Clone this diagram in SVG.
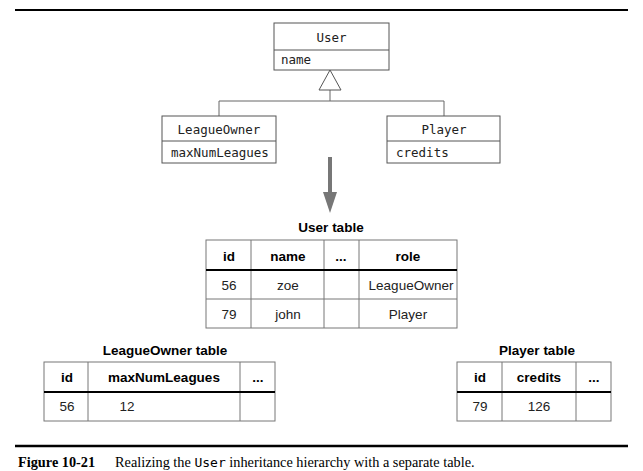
<svg xmlns="http://www.w3.org/2000/svg" width="643" height="471" viewBox="0 0 643 471">
<defs>
<style>
.box{fill:#fff;stroke:#555;stroke-width:1}
.uml{font-family:"DejaVu Sans Mono","Liberation Mono",monospace;font-size:12.5px;fill:#222}
.conn{fill:none;stroke:#666;stroke-width:1}
.tb{fill:#fff;stroke:#777;stroke-width:1}
.tl{stroke:#777;stroke-width:1}
.th{stroke:#000;stroke-width:2}
.hd{font-family:"Liberation Sans",Arial,sans-serif;font-size:13.5px;font-weight:bold;fill:#000;text-anchor:middle}
.cell{font-family:"Liberation Sans",Arial,sans-serif;font-size:13.5px;fill:#222;text-anchor:middle}
.rule{stroke:#000}
</style>
</defs>
<rect width="643" height="471" fill="#fff"/>
<line class="rule" x1="15" y1="10" x2="628" y2="10" stroke-width="2"/>
<line class="rule" x1="15" y1="446" x2="628" y2="446" stroke-width="2.5"/>

<g id="connectors">
<polyline class="conn" points="219,116 219,101 444,101 444,116"/>
<line class="conn" x1="330" y1="101" x2="330" y2="90"/>
<polygon points="330,70 319,90 341,90" fill="#fff" stroke="#555" stroke-width="1"/>
<line x1="330" y1="157" x2="330" y2="194" stroke="#777" stroke-width="4"/>
<polygon points="323,192 337,192 330,213" fill="#777"/>
</g>

<g id="User">
<rect class="box" x="274" y="23" width="115" height="47"/>
<line class="box" x1="274" y1="50" x2="389" y2="50"/>
<text class="uml" x="331.5" y="42" text-anchor="middle">User</text>
<text class="uml" x="281" y="64">name</text>
</g>

<g id="LeagueOwner">
<rect class="box" x="162" y="116" width="114" height="47"/>
<line class="box" x1="162" y1="141" x2="276" y2="141"/>
<text class="uml" x="219" y="134" text-anchor="middle">LeagueOwner</text>
<text class="uml" x="171" y="157">maxNumLeagues</text>
</g>

<g id="Player">
<rect class="box" x="387" y="116" width="113" height="47"/>
<line class="box" x1="387" y1="141" x2="500" y2="141"/>
<text class="uml" x="444" y="134" text-anchor="middle">Player</text>
<text class="uml" x="396" y="157">credits</text>
</g>

<g id="UserTable">
<text class="hd" x="331" y="232">User table</text>
<rect class="tb" x="206" y="240" width="251" height="88"/>
<line class="tl" x1="251" y1="240" x2="251" y2="328"/>
<line class="tl" x1="324" y1="240" x2="324" y2="328"/>
<line class="tl" x1="359" y1="240" x2="359" y2="328"/>
<line class="tl" x1="206" y1="299" x2="457" y2="299"/>
<line class="th" x1="206" y1="270" x2="457" y2="270"/>
<text class="hd" x="229" y="261">id</text>
<text class="hd" x="288" y="261">name</text>
<text class="hd" x="341" y="261">...</text>
<text class="hd" x="408" y="261">role</text>
<text class="cell" x="229" y="290">56</text>
<text class="cell" x="288" y="290">zoe</text>
<text class="cell" x="411" y="290">LeagueOwner</text>
<text class="cell" x="229" y="319">79</text>
<text class="cell" x="288" y="319">john</text>
<text class="cell" x="408" y="319">Player</text>
</g>

<g id="LeagueOwnerTable">
<text class="hd" x="165" y="355">LeagueOwner table</text>
<rect class="tb" x="44" y="362" width="231" height="59"/>
<line class="tl" x1="88" y1="362" x2="88" y2="421"/>
<line class="tl" x1="240" y1="362" x2="240" y2="421"/>
<line class="th" x1="44" y1="392" x2="275" y2="392"/>
<text class="hd" x="67" y="382">id</text>
<text class="hd" x="164" y="382">maxNumLeagues</text>
<text class="hd" x="258" y="382">...</text>
<text class="cell" x="67" y="411">56</text>
<text class="cell" x="127" y="411">12</text>
</g>

<g id="PlayerTable">
<text class="hd" x="537" y="355">Player table</text>
<rect class="tb" x="457" y="362" width="154" height="59"/>
<line class="tl" x1="502" y1="362" x2="502" y2="421"/>
<line class="tl" x1="576" y1="362" x2="576" y2="421"/>
<line class="th" x1="457" y1="392" x2="611" y2="392"/>
<text class="hd" x="480" y="382">id</text>
<text class="hd" x="539" y="382">credits</text>
<text class="hd" x="594" y="382">...</text>
<text class="cell" x="480" y="411">79</text>
<text class="cell" x="539" y="411">126</text>
</g>

<text x="18" y="467" font-family="Liberation Serif,'Times New Roman',serif" font-size="14.3px" fill="#000"><tspan font-weight="bold">Figure 10-21</tspan><tspan x="115">Realizing the </tspan><tspan font-family="DejaVu Sans Mono,monospace" font-size="13px">User</tspan><tspan> inheritance hierarchy with a separate table.</tspan></text>
</svg>
